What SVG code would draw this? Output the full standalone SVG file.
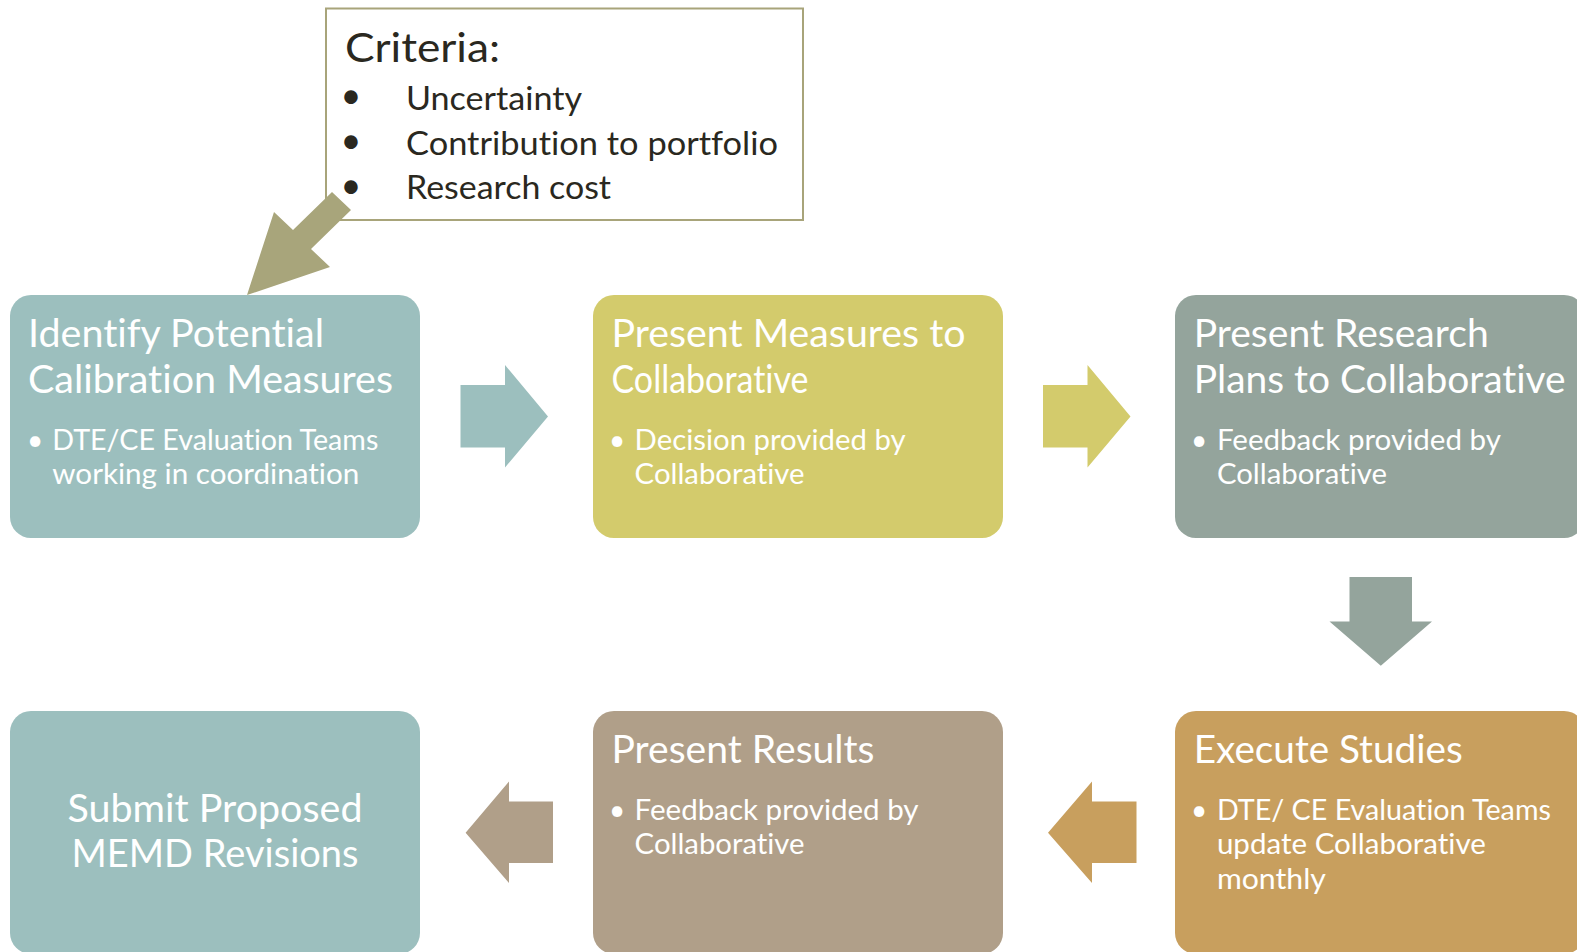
<svg xmlns="http://www.w3.org/2000/svg" width="1577" height="952" viewBox="0 0 1577 952">
  <style>
    text { font-family: Lato, "Open Sans", "Liberation Sans", sans-serif; font-variant-ligatures: none; font-feature-settings: "liga" 0, "dlig" 0; }
    .title { font-size: 38px; fill: #ffffff; }
    .body { font-size: 28px; fill: #ffffff; }
    .dot { font-size: 28px; fill: #ffffff; text-anchor: middle; }
    .crit { font-size: 32px; fill: #2a2820; }
    .crit-dot { font-size: 36px; fill: #2a2820; text-anchor: middle; }
  </style>

  <rect width="1577" height="952" fill="#ffffff"/>

  <!-- criteria callout -->
  <g id="criteria">
    <rect x="326" y="8.5" width="477" height="211.5" fill="#ffffff" stroke="#a8a47a" stroke-width="2"/>
    <text x="345" y="62" font-size="41" fill="#2a2820" textLength="155" lengthAdjust="spacingAndGlyphs">Criteria:</text>
    <text class="crit-dot" x="351" y="108">•</text>
    <text class="crit-dot" x="351" y="153">•</text>
    <text class="crit-dot" x="351" y="198">•</text>
    <text class="crit" x="406" y="110" textLength="176" lengthAdjust="spacingAndGlyphs">Uncertainty</text>
    <text class="crit" x="406" y="155" textLength="372" lengthAdjust="spacingAndGlyphs">Contribution to portfolio</text>
    <text class="crit" x="406" y="199" textLength="205" lengthAdjust="spacingAndGlyphs">Research cost</text>
  </g>

  <!-- connectors: block arrows between steps -->
  <g id="connectors">
    <polygon points="332,192 351,210 311,249 330,267 247,295 274,212 293,230" fill="#a8a57b"/>
    <polygon points="460.5,385 505,385 505,365 548,416.5 505,467.5 505,447.5 460.5,447.5" fill="#9cbfbe"/>
    <polygon points="1043,385 1087.5,385 1087.5,365 1130.5,416.5 1087.5,467.5 1087.5,447.5 1043,447.5" fill="#d3cb6c"/>
    <polygon points="1349.5,577 1412,577 1412,621.5 1432,621.5 1380.8,665.8 1329.5,621.5 1349.5,621.5" fill="#94a49c"/>
    <polygon points="1136.5,801.5 1092,801.5 1092,781.5 1048,832.7 1092,883 1092,863 1136.5,863" fill="#c89f5e"/>
    <polygon points="553,801.5 509,801.5 509,781.5 465.6,832.7 509,883 509,863 553,863" fill="#b09f89"/>
  </g>

  <g id="identify">
    <rect x="10" y="295" width="410" height="243" rx="21" fill="#9cbfbe"/>
    <text class="title" x="28" y="347" textLength="296" lengthAdjust="spacingAndGlyphs">Identify Potential</text>
    <text class="title" x="28" y="393.2" textLength="365" lengthAdjust="spacingAndGlyphs">Calibration Measures</text>
    <text class="dot" x="35" y="449.5">•</text>
    <text class="body" x="52.3" y="449.5" textLength="326" lengthAdjust="spacingAndGlyphs">DTE/CE Evaluation Teams</text>
    <text class="body" x="52.3" y="483.7" textLength="307" lengthAdjust="spacingAndGlyphs">working in coordination</text>
  </g>

  <g id="present-measures">
    <rect x="593" y="295" width="410" height="243" rx="21" fill="#d3cb6c"/>
    <text class="title" x="611.5" y="347" textLength="354" lengthAdjust="spacingAndGlyphs">Present Measures to</text>
    <text class="title" x="611.5" y="393.2" textLength="197" lengthAdjust="spacingAndGlyphs">Collaborative</text>
    <text class="dot" x="617" y="449.5">•</text>
    <text class="body" x="634.6" y="449.5" textLength="271" lengthAdjust="spacingAndGlyphs">Decision provided by</text>
    <text class="body" x="634.6" y="483.7" textLength="170" lengthAdjust="spacingAndGlyphs">Collaborative</text>
  </g>

  <g id="present-plans">
    <rect x="1175" y="295" width="410" height="243" rx="21" fill="#94a49c"/>
    <text class="title" x="1193.7" y="347" textLength="295" lengthAdjust="spacingAndGlyphs">Present Research</text>
    <text class="title" x="1193.7" y="393.2" textLength="372" lengthAdjust="spacingAndGlyphs">Plans to Collaborative</text>
    <text class="dot" x="1199" y="449.5">•</text>
    <text class="body" x="1216.9" y="449.5" textLength="284" lengthAdjust="spacingAndGlyphs">Feedback provided by</text>
    <text class="body" x="1216.9" y="483.7" textLength="170" lengthAdjust="spacingAndGlyphs">Collaborative</text>
  </g>

  <g id="execute">
    <rect x="1175" y="711" width="410" height="243" rx="21" fill="#c89f5e"/>
    <text class="title" x="1193.7" y="763.3" textLength="269" lengthAdjust="spacingAndGlyphs">Execute Studies</text>
    <text class="dot" x="1199" y="819.6">•</text>
    <text class="body" x="1216.9" y="819.6" textLength="334" lengthAdjust="spacingAndGlyphs">DTE/ CE Evaluation Teams</text>
    <text class="body" x="1216.9" y="853.8" textLength="269" lengthAdjust="spacingAndGlyphs">update Collaborative</text>
    <text class="body" x="1216.9" y="888.6" textLength="109" lengthAdjust="spacingAndGlyphs">monthly</text>
  </g>

  <g id="present-results">
    <rect x="593" y="711" width="410" height="243" rx="21" fill="#b09f89"/>
    <text class="title" x="611.5" y="763.3" textLength="263" lengthAdjust="spacingAndGlyphs">Present Results</text>
    <text class="dot" x="617" y="819.6">•</text>
    <text class="body" x="634.6" y="819.6" textLength="284" lengthAdjust="spacingAndGlyphs">Feedback provided by</text>
    <text class="body" x="634.6" y="853.8" textLength="170" lengthAdjust="spacingAndGlyphs">Collaborative</text>
  </g>

  <g id="submit">
    <rect x="10" y="711" width="410" height="243" rx="21" fill="#9cbfbe"/>
    <text class="title" x="215" y="821.7" text-anchor="middle" textLength="295" lengthAdjust="spacingAndGlyphs">Submit Proposed</text>
    <text class="title" x="215" y="866.9" text-anchor="middle" textLength="287" lengthAdjust="spacingAndGlyphs">MEMD Revisions</text>
  </g>
</svg>
